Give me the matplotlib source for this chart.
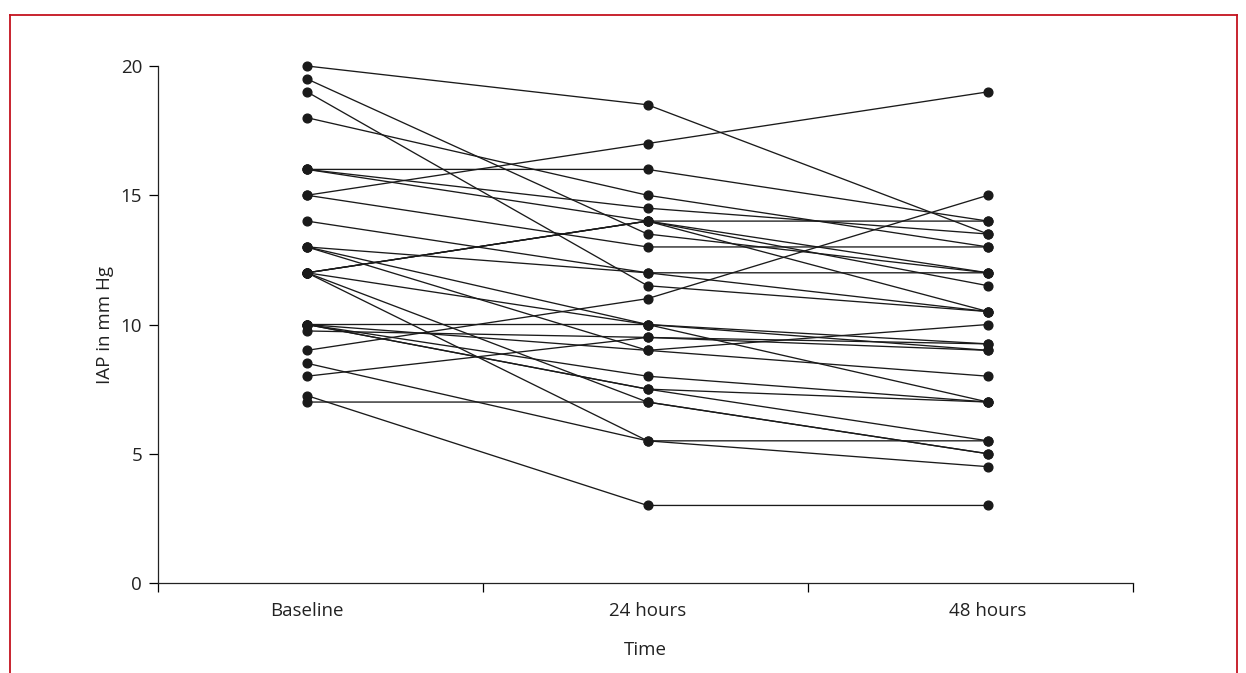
import numpy as np
import matplotlib
matplotlib.use("Agg")
import matplotlib.pyplot as plt
from matplotlib.lines import Line2D

plt.rcParams['font.family'] = ['Open Sans', 'DejaVu Sans']

# time points and IAP (mm Hg) per patient: baseline, 24 h, 48 h
time_labels = ["Baseline", "24 hours", "48 hours"]
baseline = [20, 19.5, 19, 18, 16, 16, 16, 15, 15, 14, 13, 13, 13, 12, 12, 12,
            12, 12, 12, 10, 10, 10, 10, 10, 9.75, 8, 9, 8.5, 7.25, 7]
h24 = [18.5, 13.5, 11.5, 15, 16, 14.5, 14, 17, 13, 12, 12, 10, 9, 14, 14, 14,
       10, 7, 5.5, 10, 9, 8, 7.5, 7.5, 9.5, 9.5, 11, 5.5, 3, 7]
h48 = [13.5, 12, 10.5, 13, 14, 13.5, 14, 19, 13, 12, 10.5, 9.25, 10, 12, 11.5, 10.5,
       7, 5, 5.5, 9, 8, 7, 7, 5.5, 9.25, 9, 15, 4.5, 3, 5]

W, H = 1246, 673
fig = plt.figure(figsize=(W / 100, H / 100), dpi=100)

# axes box in pixels: x 158..1133, y 66..583
ax = fig.add_axes([158 / W, (H - 583) / H, (1133 - 158) / W, (583 - 66) / H])

xs = np.arange(len(time_labels))
data = np.column_stack([baseline, h24, h48])
for row in data:
    ax.plot(xs, row, color="#1a1a1a", lw=0.95, marker="o", ms=6.3,
            mfc="#1a1a1a", mec="#1a1a1a", clip_on=False, zorder=3)

# dots at px 307, 646, 988 inside the 158..1133 axis
step = (988 - 307) / 2
x0 = -(307 - 158) / step
x1 = 2 + (1133 - 988) / step
ax.set_xlim(x0, x1)
ax.set_ylim(0, 20)

bounds = np.linspace(x0, x1, 4)
ax.set_xticks(bounds)
ax.set_xticklabels([])
ax.set_xticks(xs, minor=True)
ax.set_xticklabels(time_labels, minor=True)
ax.tick_params(axis="x", which="major", direction="out", length=6.5, width=0.9)
ax.tick_params(axis="x", which="minor", length=0, pad=14, labelsize=13.5, labelcolor="#222222")

ax.set_yticks([0, 5, 10, 15, 20])
ax.tick_params(axis="y", direction="out", length=6.5, width=0.9, pad=5,
               labelsize=13.5, labelcolor="#222222")

for s in ["top", "right"]:
    ax.spines[s].set_visible(False)
for s in ["left", "bottom"]:
    ax.spines[s].set_linewidth(0.9)
    ax.spines[s].set_color("#222222")

ax.set_xlabel("Time", fontsize=13.5, color="#222222", labelpad=14.5)
ax.set_ylabel("IAP in mm Hg", fontsize=13.5, color="#222222", labelpad=5)

# red frame around the figure (open at the bottom)
red = "#c4121f"
kw = dict(color=red, lw=1.3, transform=fig.transFigure)
fig.add_artist(Line2D([10 / W, 10 / W], [0, 1 - 15 / H], **kw))
fig.add_artist(Line2D([10 / W, 1237 / W], [1 - 15 / H, 1 - 15 / H], **kw))
fig.add_artist(Line2D([1237 / W, 1237 / W], [0, 1 - 15 / H], **kw))

fig.savefig("out.png", dpi=100)
